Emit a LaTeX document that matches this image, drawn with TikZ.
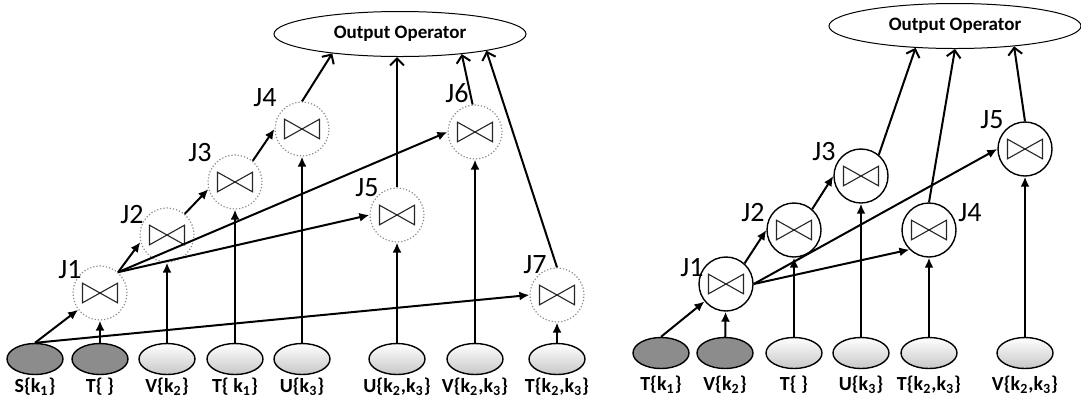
\documentclass[tikz,border=0pt]{standalone}
\usepackage{fontspec}
\setmainfont{Carlito}
\usetikzlibrary{arrows,arrows.meta,shapes.geometric}
\tikzset{
  >=latex,
  {joinop/.style} ={circle, fill=white, minimum size=27pt, inner sep=0,
                  path picture={\draw[shift={(path picture bounding box.center)},
                    solid, draw=black!85, line width=.55pt]
                    (-8.75pt,4.9pt) -- (8.75pt,-4.9pt) -- (8.75pt,4.9pt)
                    -- (-8.75pt,-4.9pt) -- cycle;}},
  {fuzzy joinop/.style} ={joinop, draw=black!45, densely dotted, line width=.6pt},
  {plain joinop/.style} ={joinop, draw, line width=.7pt},
  {rel/.style} ={ellipse, draw, line width=.7pt, minimum width=28pt,
                 minimum height=15.5pt, inner sep=0},
  {dark rel/.style} ={rel, fill=black!45},
  {light rel/.style} ={rel, top color=white, bottom color=black!22},
  {rel name/.style} ={font=\fontsize{10}{10}\selectfont\bfseries},
  {joinop name/.style} ={font=\fontsize{14}{14}\selectfont},
  {output/.style} ={ellipse, draw, line width=.5pt, minimum width=126pt,
                    minimum height=22.5pt, inner sep=1pt,
                    font=\fontsize{9.5}{10}\selectfont\bfseries},
  {feed/.style} ={draw, line width=1pt, -{Latex[length=5pt,width=4.5pt]}},
  {emit/.style} ={draw, line width=1pt, -{Straight Barb[length=3.5pt,width=7pt]}},
}
\begin{document}
\begin{tikzpicture}[x=0.5pt, y=-0.5pt]
\useasboundingbox (0,0) rectangle (1081,398);

% left plan
\node[output] (lout) at (400,34) {Output Operator};

\node[fuzzy joinop] (lJ1) at (100,293) {};
\node[fuzzy joinop] (lJ2) at (167,235) {};
\node[fuzzy joinop] (lJ3) at (235,182) {};
\node[fuzzy joinop] (lJ4) at (302,129) {};
\node[fuzzy joinop] (lJ5) at (397,215) {};
\node[fuzzy joinop] (lJ6) at (475,132) {};
\node[fuzzy joinop] (lJ7) at (557,295) {};

\node[joinop name] (lJ1name) at (70,270) {J1};
\node[joinop name] (lJ2name) at (132,215) {J2};
\node[joinop name] (lJ3name) at (200,153) {J3};
\node[joinop name] (lJ4name) at (265,98) {J4};
\node[joinop name] (lJ5name) at (367,188) {J5};
\node[joinop name] (lJ6name) at (457,93) {J6};
\node[joinop name] (lJ7name) at (535,265) {J7};

\node[dark rel] (lS) at (35,359) {};
\node[dark rel] (lT0) at (100,359) {};
\node[light rel] (lV2) at (167,359) {};
\node[light rel] (lT1) at (235,359) {};
\node[light rel] (lU3) at (302,359) {};
\node[light rel] (lU23) at (397,359) {};
\node[light rel] (lV23) at (475,359) {};
\node[light rel] (lT23) at (557,359) {};

\node[rel name] (lSname) at (35,387) {S\{k\textsubscript{1}\}};
\node[rel name] (lT0name) at (100,387) {T\{ \}};
\node[rel name] (lV2name) at (167,387) {V\{k\textsubscript{2}\}};
\node[rel name] (lT1name) at (235,387) {T\{ k\textsubscript{1}\}};
\node[rel name] (lU3name) at (302,387) {U\{k\textsubscript{3}\}};
\node[rel name] (lU23name) at (397,387) {U\{k\textsubscript{2},k\textsubscript{3}\}};
\node[rel name] (lV23name) at (475,387) {V\{k\textsubscript{2},k\textsubscript{3}\}};
\node[rel name] (lT23name) at (557,387) {T\{k\textsubscript{2},k\textsubscript{3}\}};

\path[feed] (lS.north) -- (lJ1);
\path[feed] (lS.north) -- (lJ7.west);
\path[feed] (lT0) -- (lJ1);
\path[feed] (lV2) -- (lJ2);
\path[feed] (lT1) -- (lJ3);
\path[feed] (lU3) -- (lJ4);
\path[feed] (lU23) -- (lJ5);
\path[feed] (lV23) -- (lJ6);
\path[feed] (lT23) -- (lJ7);
\path[feed] (lJ1.49) -- (lJ2.195);
\path[feed] (lJ1.49) -- (lJ5.west);
\path[feed] (lJ1.49) -- (lJ6.west);
\path[feed] (lJ2.50) -- (lJ3.195);
\path[feed] (lJ3.50) -- (lJ4.west);
\path[emit] (lJ4.north) -- (lout.196);
\path[emit] (lJ5) -- (lout.south -| lJ5);
\path[emit] (lJ6.95) -- (lout.342);
\path[emit] (lJ7.north) -- (lout.349);

% right plan
\node[output] (rout) at (955,26) {Output Operator};

\node[plain joinop] (rJ1) at (726,284) {};
\node[plain joinop] (rJ2) at (794,230) {};
\node[plain joinop] (rJ3) at (861,176) {};
\node[plain joinop] (rJ4) at (929,230) {};
\node[plain joinop] (rJ5) at (1025,149) {};

\node[joinop name] (rJ1name) at (692,268) {J1};
\node[joinop name] (rJ2name) at (753,213) {J2};
\node[joinop name] (rJ3name) at (824,152) {J3};
\node[joinop name] (rJ4name) at (970,213) {J4};
\node[joinop name] (rJ5name) at (992,120) {J5};

\node[dark rel] (rT1) at (661,353) {};
\node[dark rel] (rV2) at (725,353) {};
\node[light rel] (rT0) at (794,353) {};
\node[light rel] (rU3) at (861,353) {};
\node[light rel] (rT23) at (929,353) {};
\node[light rel] (rV23) at (1025,353) {};

\node[rel name] (rT1name) at (661,385) {T\{k\textsubscript{1}\}};
\node[rel name] (rV2name) at (725,385) {V\{k\textsubscript{2}\}};
\node[rel name] (rT0name) at (794,385) {T\{ \}};
\node[rel name] (rU3name) at (861,385) {U\{k\textsubscript{3}\}};
\node[rel name] (rT23name) at (929,385) {T\{k\textsubscript{2},k\textsubscript{3}\}};
\node[rel name] (rV23name) at (1025,385) {V\{k\textsubscript{2},k\textsubscript{3}\}};

\path[feed] (rT1.north) -- (rJ1);
\path[feed] (rV2) -- (rJ1);
\path[feed] (rT0) -- (rJ2);
\path[feed] (rU3) -- (rJ3);
\path[feed] (rT23) -- (rJ4);
\path[feed] (rV23) -- (rJ5);
\path[feed] (rJ1.48) -- (rJ2.west);
\path[feed] (rJ1.east) -- (rJ5.west);
\path[feed] (rJ1.east) -- (rJ4.225);
\path[feed] (rJ2.49) -- (rJ3.west);
\path[emit] (rJ3.50) -- (rout.209);
\path[emit] (rJ4.north) -- (rout.south);
\path[emit] (rJ5.north) -- (rout.341);
\end{tikzpicture}
\end{document}
